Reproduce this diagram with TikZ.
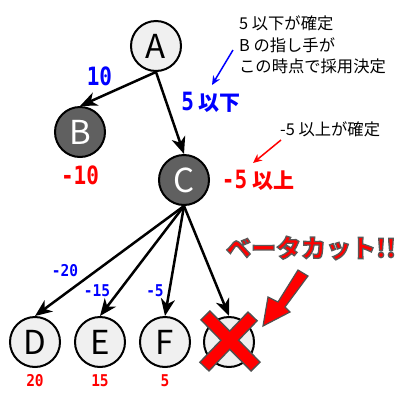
\documentclass[tikz,border=0pt]{standalone}
\usepackage{fontspec}
\setmainfont{Noto Sans CJK JP}
\newfontfamily\monofnt{DejaVu Sans Mono}
\usetikzlibrary{arrows.meta,calc}
\definecolor{lightfill}{HTML}{F0F0F0}
\definecolor{darkfill}{HTML}{606060}
\definecolor{outl}{HTML}{505050}
\newcommand{\mnum}[1]{\scalebox{1}[1.2]{\monofnt\bfseries #1}}
\newcommand{\snum}[1]{\scalebox{1}[1.12]{\monofnt\bfseries #1}}
\newcommand{\outlined}[1]{\special{pdf:literal direct 2 Tr 1.3 w 0.35 0.35 0.35 RG}#1\special{pdf:literal direct 0 Tr}}
\begin{document}
\begin{tikzpicture}[x=1pt,y=-1pt,
  circ/.style={circle,draw=black,line width=2pt,minimum size=50pt,inner sep=0pt,font=\fontsize{33}{33}\selectfont},
  light/.style={circ,fill=lightfill,text=black},
  dark/.style={circ,fill=darkfill,text=white},
  edge/.style={line width=2.5pt,-{Stealth[length=17pt,width=14pt,inset=5pt]}},
  big/.style={font=\bfseries\fontsize{21}{21}\selectfont,inner sep=0pt},
  small/.style={font=\fontsize{14.5}{14.5}\selectfont,inner sep=0pt},
  note/.style={font=\fontsize{16.3}{21.5}\selectfont,align=left,inner sep=0pt},
  thinarrow/.style={line width=1.5pt,-{Stealth[length=9pt,width=8pt]}},
  betatext/.style={font=\bfseries\fontsize{25}{25}\selectfont,inner sep=0pt},
]
\useasboundingbox (0,0) rectangle (400,400);
% nodes
\node[light] (A) at (156,46) {A};
\node[dark]  (B) at (80,132) {B};
\node[dark]  (C) at (184,180) {C};
\node[light] (D) at (35,342) {D};
\node[light] (E) at (100,342) {E};
\node[light] (F) at (165,342) {F};
\node[light] (X) at (229,342) {};
% edges
\draw[edge] (A.south) -- (B.north);
\draw[edge] (A.south) -- (C.north);
\draw[edge] (C.south) -- (D.north);
\draw[edge] (C.south) -- (E.north);
\draw[edge] (C.south) -- (F.north);
\draw[edge] (C.south) -- (X.north);
% values
\node[big,text=blue] (l10) at (99.5,76) {\mnum{10}};
\node[big,text=blue] (l5) at (211,102) {\mnum{5} 以下};
\node[big,text=red] (lm10) at (80,175) {\mnum{-10}};
\node[big,text=red] (lm5) at (258,180) {\mnum{-5} 以上};
\node[small,text=blue] (e20) at (65,271) {\snum{-20}};
\node[small,text=blue] (e15) at (97,291) {\snum{-15}};
\node[small,text=blue] (e5) at (155,291) {\snum{-5}};
\node[small,text=red] (v20) at (35,381) {\snum{20}};
\node[small,text=red] (v15) at (100,381) {\snum{15}};
\node[small,text=red] (v5) at (165,381) {\snum{5}};
% notes
\node[note,anchor=north west] (n1) at (239,16) {5 以下が確定\\B の指し手が\\この時点で採用決定};
\node[note,anchor=west] (n2) at (280,129.5) {-5 以上が確定};
\coordinate (ba1) at (233,50);
\coordinate (ba2) at (212,85);
\draw[thinarrow,blue] (ba1) -- (ba2);
\coordinate (ra1) at (281,140);
\coordinate (ra2) at (253,163);
\draw[thinarrow,red] (ra1) -- (ra2);
% cross
\coordinate (x1) at (206,316);
\coordinate (x2) at (255,366);
\coordinate (x3) at (252,317);
\coordinate (x4) at (205,366);
\draw[outl,line width=14pt,shorten <=-1.5pt,shorten >=-1.5pt] (x1) -- (x2);
\draw[outl,line width=14pt,shorten <=-1.5pt,shorten >=-1.5pt] (x3) -- (x4);
\draw[red,line width=11pt] (x1) -- (x2);
\draw[red,line width=11pt] (x3) -- (x4);
% big arrow
\draw[outl,fill=red,line width=1.2pt,line join=miter]
  (298,270) -- (308,276) -- (285,307) -- (290,312) -- (263,326) -- (268,297) -- (278,302) -- cycle;
% beta cut text
\node[betatext,text=red] (beta) at (311,248) {\outlined{ベータカット!!}};
\end{tikzpicture}
\end{document}
